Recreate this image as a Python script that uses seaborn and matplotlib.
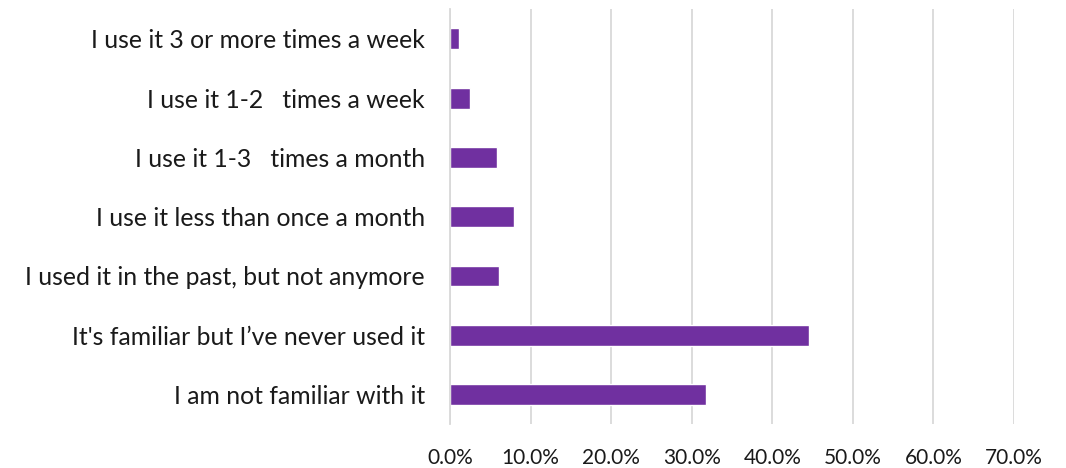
import matplotlib
matplotlib.use("Agg")
import matplotlib.pyplot as plt
import seaborn as sns
import pandas as pd
from matplotlib.ticker import PercentFormatter, MultipleLocator

categories = [
    "I use it 3 or more times a week",
    "I use it 1-2   times a week",
    "I use it 1-3   times a month",
    "I use it less than once a month",
    "I used it in the past, but not anymore",
    "It's familiar but I\u2019ve never used it",
    "I am not familiar with it",
]
shares = [1.1, 2.5, 5.8, 7.9, 6.1, 44.6, 31.8]

df = pd.DataFrame({"category": categories, "share": shares})

sns.set_theme(style="white")
plt.rcParams["font.family"] = ["Lato", "DejaVu Sans"]

fig = plt.figure(figsize=(10.66, 4.68), dpi=100)
ax = fig.add_axes([0.4221, 0.0936, 0.5291, 0.8867])

sns.barplot(data=df, x="share", y="category", color="#7030A0",
            width=0.35, saturation=1, ax=ax)

ax.set_xlim(0, 70)
ax.xaxis.set_major_locator(MultipleLocator(10))
ax.xaxis.set_major_formatter(PercentFormatter(decimals=1))
ax.grid(axis="x", color="#d9d9d9", linewidth=1.3)
ax.set_axisbelow(True)
for s in ["top", "right", "bottom"]:
    ax.spines[s].set_visible(False)
ax.spines["left"].set_color("#d9d9d9")
ax.spines["left"].set_linewidth(1.3)
ax.set_xlabel("")
ax.set_ylabel("")
ax.tick_params(axis="x", length=0, pad=17, labelsize=15, colors="#1a1a1a")
ax.tick_params(axis="y", length=0, pad=18, labelsize=17.8, colors="#1a1a1a")

fig.savefig("out.png", dpi=100)
